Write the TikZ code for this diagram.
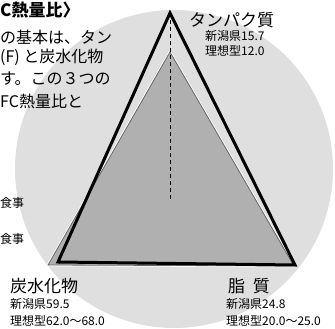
\documentclass[tikz,border=0pt]{standalone}
\usepackage{fontspec}
\setmainfont{Noto Sans CJK JP}
\begin{document}
\begin{tikzpicture}[x=1pt,y=-1pt,
  body/.style={anchor=west, inner sep=0pt, font=\fontsize{16}{16}\selectfont},
  titletext/.style={anchor=west, inner sep=0pt, font=\bfseries\fontsize{17}{17}\selectfont},
  side/.style={anchor=west, inner sep=0pt, font=\fontsize{12}{12}\selectfont},
  lab/.style={anchor=west, inner sep=0pt, font=\fontsize{17}{17}\selectfont},
  val/.style={anchor=west, inner sep=0pt, font=\fontsize{12}{12}\selectfont},
  outertri/.style={draw=black, line width=3pt, line join=miter},
  innertri/.style={fill=gray!62, draw=gray!80!black, line width=0.8pt},
  centerline/.style={draw=black, line width=0.8pt, dash pattern=on 4pt off 3pt}]
\useasboundingbox (0,0) rectangle (335,329);
% background disc
\fill[gray!25] (174,169) circle (159);
% coordinates of the triangles
\coordinate (P) at (170,13);
\coordinate (C) at (58,262);
\coordinate (F) at (295,265);
\coordinate (Pi) at (170,52);
\coordinate (Ci) at (48,265);
\coordinate (Fi) at (294,266);
\coordinate (M) at (170,200);
% inner (Niigata) triangle
\draw[white, line width=2.5pt, line join=miter] (Pi) -- (Ci) -- (Fi) -- cycle;
\path[innertri] (Pi) -- (Ci) -- (Fi) -- cycle;
% outer (ideal) triangle
\path[outertri] (P) -- (C) -- (F) -- cycle;
\path[centerline] (P) -- (M);
% left text block
\node[titletext] (t0) at (0,10) {C熱量比〉};
\node[body] (t1) at (0,37) {の基本は、タン};
\node[body] (t2) at (0,57) {(F) と炭水化物};
\node[body] (t3) at (0,79) {す。この３つの};
\node[body] (t4) at (0,101) {FC熱量比と};
\node[side] (s1) at (0,203) {食事};
\node[side] (s2) at (0,239) {食事};
% labels
\node[lab] (lp) at (189,20) {タンパク質};
\node[val] (lp1) at (205,36) {新潟県15.7};
\node[val] (lp2) at (205,51) {理想型12.0};
\node[lab] (lc) at (10,286) {炭水化物};
\node[val] (lc1) at (10,304) {新潟県59.5};
\node[val] (lc2) at (10,321) {理想型62.0～68.0};
\node[lab] (lf) at (228,286) {脂\ \ 質};
\node[val] (lf1) at (226,304) {新潟県24.8};
\node[val] (lf2) at (226,321) {理想型20.0～25.0};
\end{tikzpicture}
\end{document}
